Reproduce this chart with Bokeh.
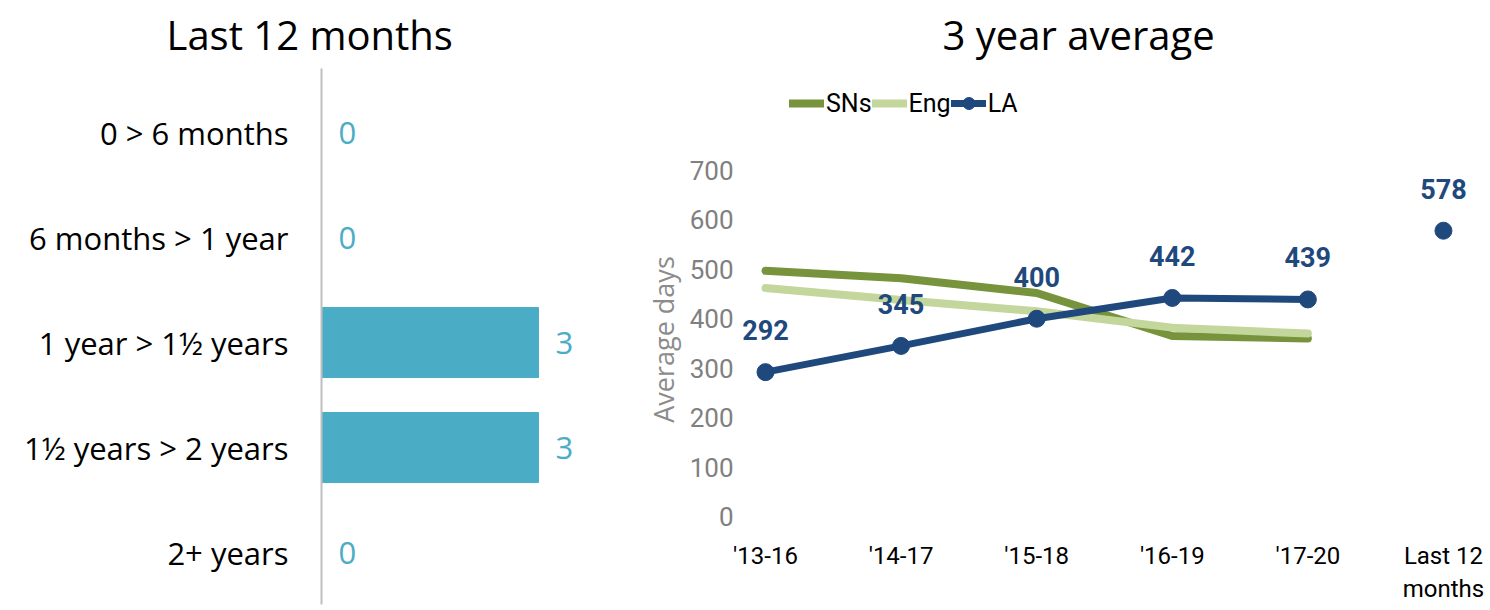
from bokeh.plotting import figure
from bokeh.layouts import row
from bokeh.models import ColumnDataSource, Range1d, FixedTicker, Legend, LegendItem
from bokeh.core.properties import value
from bokeh.embed import file_html
from bokeh.resources import INLINE

# ---------------- data ----------------
durations = ["0 > 6 months", "6 months > 1 year", "1 year > 1½ years", "1½ years > 2 years", "2+ years"]
counts = [0, 0, 3, 3, 0]

periods = ["'13-16", "'14-17", "'15-18", "'16-19", "'17-20", "Last 12\nmonths"]
sns = [497, 482, 452, 365, 360]
eng = [462, 438, 415, 382, 370]
la = [292, 345, 400, 442, 439, 578]
y_ticks = [0, 100, 200, 300, 400, 500, 600, 700]

FONT = "Open Sans"
NARROW = "Roboto"
BAR = "#4BACC6"
C_SNS = "#77933C"
C_ENG = "#C3D69B"
C_LA = "#1F497D"

W1, W2, H = 640, 850, 610

# ---------------- left: bar chart ----------------
rows_idx = list(range(len(durations)))
src1 = ColumnDataSource(dict(pos=rows_idx, count=counts, label=[str(c) for c in counts]))
p1 = figure(width=W1, height=H, y_range=Range1d(4.495, -0.610),
            x_range=Range1d(0, 4.41), x_axis_location=None,
            output_backend="svg", toolbar_location=None, frame_align=False,
            min_border_left=321, min_border_right=0, min_border_top=68, min_border_bottom=6)
p1.hbar(y="pos", left=0, right="count", height=0.667, color=BAR, source=src1)
p1.text(x="count", y="pos", text="label", source=src1, x_offset=17,
        text_align="left", text_baseline="middle", text_color=BAR,
        text_font=value(FONT), text_font_size="31px")
p1.title.text = "Last 12 months"
p1.title.text_font = FONT
p1.title.text_font_size = "40px"
p1.title.text_font_style = "normal"
p1.title.text_color = "#000000"
p1.title.align = "left"
p1.title.vertical_align = "top"
p1.title.offset = -155
p1.title.standoff = 10
p1.yaxis.ticker = FixedTicker(ticks=rows_idx)
p1.yaxis.major_label_overrides = {i: s for i, s in enumerate(durations)}
p1.yaxis.axis_line_color = "#BFBFBF"
p1.yaxis.axis_line_width = 2
p1.yaxis.major_tick_line_color = None
p1.yaxis.minor_tick_line_color = None
p1.yaxis.major_tick_out = 0
p1.yaxis.major_label_standoff = 33
p1.yaxis.major_label_text_font = FONT
p1.yaxis.major_label_text_font_size = "31px"
p1.yaxis.major_label_text_color = "#000000"
p1.grid.visible = False
p1.outline_line_color = None

# ---------------- right: line chart ----------------
idx = list(range(len(periods)))
p2 = figure(width=W2, height=H, x_range=Range1d(-0.236, 5.347), y_range=Range1d(-190, 906),
            output_backend="svg", toolbar_location=None, frame_align=False,
            min_border_left=93, min_border_right=0, min_border_top=68, min_border_bottom=0)
r_sns = p2.line(x=idx[:len(sns)], y=sns, line_color=C_SNS, line_width=8, line_join="round", line_cap="round")
r_eng = p2.line(x=idx[:len(eng)], y=eng, line_color=C_ENG, line_width=8, line_join="round", line_cap="round")
r_la = p2.line(x=idx[:len(la) - 1], y=la[:-1], line_color=C_LA, line_width=7, line_join="round", line_cap="round")
r_lam = p2.scatter(x=idx, y=la, marker="circle", size=17, fill_color=C_LA, line_color=C_LA)
p2.text(x=idx, y=la, text=[str(v) for v in la], y_offset=-42,
        text_align="center", text_baseline="middle", text_color=C_LA,
        text_font=value(NARROW), text_font_style="bold", text_font_size="27px")

legend = Legend(items=[LegendItem(label="SNs", renderers=[r_sns]),
                       LegendItem(label="Eng", renderers=[r_eng]),
                       LegendItem(label="LA", renderers=[r_la, r_lam])],
                orientation="horizontal", location=(56, 492),
                glyph_width=35, glyph_height=30, label_height=30, label_standoff=2,
                spacing=0, padding=0, margin=0, border_line_color=None,
                background_fill_alpha=0, label_text_font=NARROW,
                label_text_font_size="25px", label_text_color="#000000")
p2.add_layout(legend)

p2.title.text = "3 year average"
p2.title.text_font = FONT
p2.title.text_font_size = "40px"
p2.title.text_font_style = "normal"
p2.title.text_color = "#000000"
p2.title.align = "left"
p2.title.vertical_align = "top"
p2.title.offset = 209
p2.title.standoff = 10

p2.xaxis.fixed_location = 0
p2.xaxis.ticker = FixedTicker(ticks=idx)
p2.xaxis.major_label_overrides = {i: s for i, s in enumerate(periods)}
p2.xaxis.axis_line_color = None
p2.xaxis.major_tick_line_color = None
p2.xaxis.minor_tick_line_color = None
p2.xaxis.major_tick_out = 0
p2.xaxis.major_label_standoff = 25
p2.xaxis.major_label_text_font = NARROW
p2.xaxis.major_label_text_font_size = "24px"
p2.xaxis.major_label_text_color = "#000000"

p2.yaxis.ticker = FixedTicker(ticks=y_ticks)
p2.yaxis.bounds = (0, 700)
p2.yaxis.axis_line_color = None
p2.yaxis.major_tick_line_color = None
p2.yaxis.minor_tick_line_color = None
p2.yaxis.major_tick_out = 0
p2.yaxis.major_label_standoff = 0
p2.yaxis.major_label_text_font = NARROW
p2.yaxis.major_label_text_font_size = "26px"
p2.yaxis.major_label_text_color = "#808080"
p2.yaxis.axis_label = "Average days"
p2.yaxis.axis_label_text_font = FONT
p2.yaxis.axis_label_text_font_style = "normal"
p2.yaxis.axis_label_text_font_size = "27px"
p2.yaxis.axis_label_text_color = "#8C8C8C"
p2.yaxis.axis_label_standoff = 5
p2.grid.visible = False
p2.outline_line_color = None

layout = row(p1, p2)
open("out.html", "w").write(file_html(layout, INLINE))
